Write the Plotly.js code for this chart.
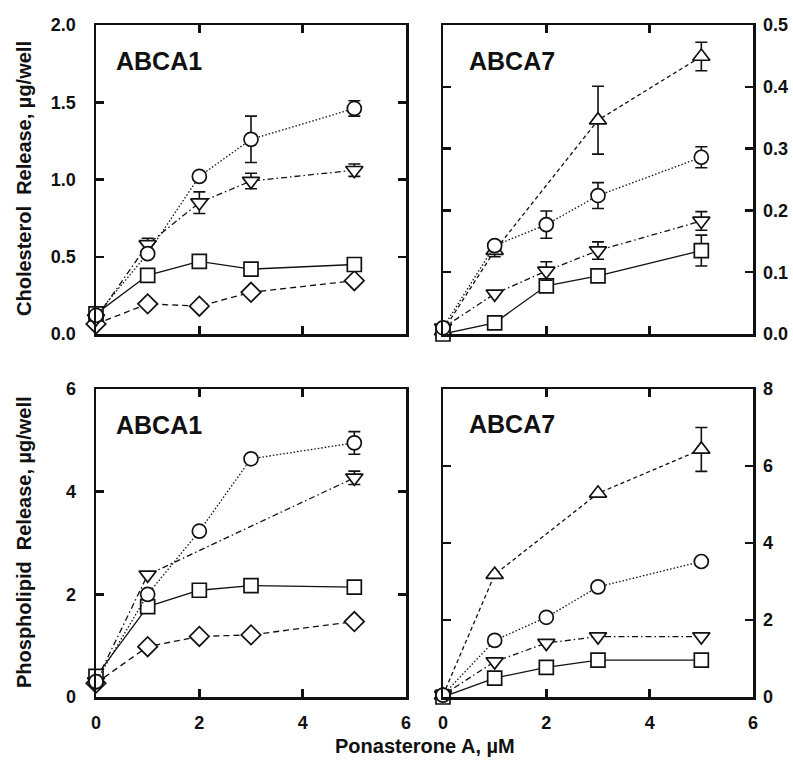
<!DOCTYPE html>
<html>
<head>
<meta charset="utf-8">
<script src="https://cdn.plot.ly/plotly-3.0.1.min.js"></script>
<style>html,body{margin:0;padding:0;background:#fff;}</style>
</head>
<body>
<div id="chart" style="width:793px;height:765px;"></div>
<script>
// Ponasterone A concentrations (µM)
const xAll = [0, 1, 2, 3, 5];
const xTriUp = [0, 1, 3, 5];
const xTriDownPL1 = [0, 1, 5];

// Cholesterol release, ABCA1 (µg/well)
const chol1Circle = [0.12, 0.52, 1.02, 1.26, 1.46];
const chol1CircleErr = [0, 0.02, 0.02, 0.15, 0.05];
const chol1TriDown = [0.10, 0.58, 0.85, 0.99, 1.06];
const chol1TriDownErr = [0, 0.04, 0.07, 0.05, 0.04];
const chol1Square = [0.13, 0.38, 0.47, 0.42, 0.45];
const chol1Diamond = [0.065, 0.195, 0.18, 0.27, 0.345];

// Cholesterol release, ABCA7 (µg/well)
const chol7TriUp = [0.005, 0.135, 0.346, 0.449];
const chol7TriUpErr = [0, 0.01, 0.055, 0.023];
const chol7Circle = [0.01, 0.143, 0.177, 0.224, 0.286];
const chol7CircleErr = [0, 0.005, 0.022, 0.021, 0.017];
const chol7TriDown = [0.01, 0.065, 0.102, 0.135, 0.183];
const chol7TriDownErr = [0, 0, 0.015, 0.014, 0.015];
const chol7Square = [0.0, 0.018, 0.078, 0.094, 0.135];
const chol7SquareErr = [0, 0, 0, 0, 0.025];

// Phospholipid release, ABCA1 (µg/well)
const pl1Circle = [0.30, 2.0, 3.23, 4.64, 4.95];
const pl1CircleErr = [0, 0, 0, 0, 0.22];
const pl1TriDown = [0.30, 2.38, 4.27];
const pl1TriDownErr = [0, 0, 0.13];
const pl1Square = [0.40, 1.76, 2.08, 2.17, 2.14];
const pl1Diamond = [0.27, 0.98, 1.18, 1.21, 1.47];

// Phospholipid release, ABCA7 (µg/well)
const pl7TriUp = [0.05, 3.18, 5.29, 6.43];
const pl7TriUpErr = [0, 0, 0, 0.57];
const pl7Circle = [0.05, 1.47, 2.07, 2.86, 3.52];
const pl7TriDown = [0.05, 0.92, 1.40, 1.57, 1.57];
const pl7Square = [0.0, 0.49, 0.77, 0.96, 0.96];

// Tick labels
const xTickVals = [0, 2, 4, 6];
const xTickText = ['0', '2', '4', '6'];
const cholATickVals = [0, 0.5, 1, 1.5, 2];
const cholATickText = ['0.0', '0.5', '1.0', '1.5', '2.0'];
const chol7TickVals = [0, 0.1, 0.2, 0.3, 0.4, 0.5];
const chol7TickText = ['0.0', '0.1', '0.2', '0.3', '0.4', '0.5'];
const pl1TickVals = [0, 2, 4, 6];
const pl1TickText = ['0', '2', '4', '6'];
const pl7TickVals = [0, 2, 4, 6, 8];
const pl7TickText = ['0', '2', '4', '6', '8'];

const FONT = 'Liberation Sans, Arial, Helvetica, sans-serif';

const styles = {
  circle:   {symbol: 'circle', size: 14, dash: '1.5px,2px'},
  triDown:  {symbol: 'triangle-down', size: 15, dash: '6px,3px,1.5px,3px'},
  triUp:    {symbol: 'triangle-up', size: 15, dash: '4px,3px'},
  square:   {symbol: 'square', size: 14, dash: 'solid'},
  diamond:  {symbol: 'diamond', size: 15, dash: '6px,4px'}
};

function series(x, y, err, kind, xa, ya) {
  const s = styles[kind];
  const t = {
    type: 'scatter', mode: 'lines+markers', x: x, y: y,
    xaxis: xa, yaxis: ya, cliponaxis: false, showlegend: false, hoverinfo: 'skip',
    line: {color: '#111', width: 1.3, dash: s.dash},
    marker: {symbol: s.symbol, size: s.size, color: '#fff',
             line: {color: '#111', width: 1.7}}
  };
  if (err) {
    t.error_y = {type: 'data', array: err, visible: true, color: '#111', thickness: 1.6, width: 6};
  }
  return t;
}

const data = [
  // top-left
  series(xAll, chol1Diamond, null, 'diamond', 'x', 'y'),
  series(xAll, chol1Square, null, 'square', 'x', 'y'),
  series(xAll, chol1TriDown, chol1TriDownErr, 'triDown', 'x', 'y'),
  series(xAll, chol1Circle, chol1CircleErr, 'circle', 'x', 'y'),
  // top-right
  series(xTriUp, chol7TriUp, chol7TriUpErr, 'triUp', 'x2', 'y2'),
  series(xAll, chol7Square, chol7SquareErr, 'square', 'x2', 'y2'),
  series(xAll, chol7TriDown, chol7TriDownErr, 'triDown', 'x2', 'y2'),
  series(xAll, chol7Circle, chol7CircleErr, 'circle', 'x2', 'y2'),
  // bottom-left
  series(xAll, pl1Diamond, null, 'diamond', 'x3', 'y3'),
  series(xTriDownPL1, pl1TriDown, pl1TriDownErr, 'triDown', 'x3', 'y3'),
  series(xAll, pl1Square, null, 'square', 'x3', 'y3'),
  series(xAll, pl1Circle, pl1CircleErr, 'circle', 'x3', 'y3'),
  // bottom-right
  series(xTriUp, pl7TriUp, pl7TriUpErr, 'triUp', 'x4', 'y4'),
  series(xAll, pl7TriDown, null, 'triDown', 'x4', 'y4'),
  series(xAll, pl7Square, null, 'square', 'x4', 'y4'),
  series(xAll, pl7Circle, null, 'circle', 'x4', 'y4')
];

const W = 793, H = 765;
const leftDom = [96 / W, 406 / W];
const rightDom = [443 / W, 753 / W];
const topDom = [1 - 334 / H, 1 - 25 / H];
const botDom = [1 - 697 / H, 1 - 389 / H];

function baseAxis(extra) {
  return Object.assign({
    showline: true, linewidth: 2.5, linecolor: '#111', mirror: 'ticks',
    ticks: 'inside', ticklen: 8, tickwidth: 2.5, tickcolor: '#111',
    showgrid: false, zeroline: false, fixedrange: true,
    tickfont: {family: FONT, size: 18, color: '#111', weight: 'bold'}
  }, extra);
}

const layout = {
  width: W, height: H,
  margin: {l: 0, r: 0, t: 0, b: 0},
  paper_bgcolor: '#fff', plot_bgcolor: '#fff',
  showlegend: false,
  xaxis:  baseAxis({domain: leftDom, anchor: 'y', range: [0, 6], tickvals: xTickVals, showticklabels: false}),
  yaxis:  baseAxis({domain: topDom, anchor: 'x', range: [0, 2], tickvals: cholATickVals, ticktext: cholATickText, ticklabelstandoff: 14}),
  xaxis2: baseAxis({domain: rightDom, anchor: 'y2', range: [0, 6], tickvals: xTickVals, showticklabels: false}),
  yaxis2: baseAxis({domain: topDom, anchor: 'x2', range: [0, 0.5], side: 'right', tickvals: chol7TickVals, ticktext: chol7TickText, ticklabelstandoff: 4}),
  xaxis3: baseAxis({domain: leftDom, anchor: 'y3', range: [0, 6], tickvals: xTickVals, ticktext: xTickText, ticklabelstandoff: 8}),
  yaxis3: baseAxis({domain: botDom, anchor: 'x3', range: [0, 6], tickvals: pl1TickVals, ticktext: pl1TickText, ticklabelstandoff: 14}),
  xaxis4: baseAxis({domain: rightDom, anchor: 'y4', range: [0, 6], tickvals: xTickVals, ticktext: xTickText, ticklabelstandoff: 8}),
  yaxis4: baseAxis({domain: botDom, anchor: 'x4', range: [0, 8], side: 'right', tickvals: pl7TickVals, ticktext: pl7TickText, ticklabelstandoff: 4}),
  annotations: [
    {text: 'ABCA1', xref: 'paper', yref: 'paper', x: 114 / W, y: 1 - 61 / H, xanchor: 'left', yanchor: 'middle', showarrow: false,
     font: {family: FONT, size: 25, color: '#111', weight: 'bold'}},
    {text: 'ABCA7', xref: 'paper', yref: 'paper', x: 467 / W, y: 1 - 61 / H, xanchor: 'left', yanchor: 'middle', showarrow: false,
     font: {family: FONT, size: 25, color: '#111', weight: 'bold'}},
    {text: 'ABCA1', xref: 'paper', yref: 'paper', x: 114 / W, y: 1 - 425 / H, xanchor: 'left', yanchor: 'middle', showarrow: false,
     font: {family: FONT, size: 25, color: '#111', weight: 'bold'}},
    {text: 'ABCA7', xref: 'paper', yref: 'paper', x: 467 / W, y: 1 - 424 / H, xanchor: 'left', yanchor: 'middle', showarrow: false,
     font: {family: FONT, size: 25, color: '#111', weight: 'bold'}},
    {text: 'Cholesterol  Release, µg/well', xref: 'paper', yref: 'paper', x: 24 / W, y: 1 - 179 / H, textangle: -90,
     xanchor: 'center', yanchor: 'middle', showarrow: false,
     font: {family: FONT, size: 20, color: '#111', weight: 'bold'}},
    {text: 'Phospholipid  Release, µg/well', xref: 'paper', yref: 'paper', x: 24 / W, y: 1 - 542 / H, textangle: -90,
     xanchor: 'center', yanchor: 'middle', showarrow: false,
     font: {family: FONT, size: 20, color: '#111', weight: 'bold'}},
    {text: 'Ponasterone A, µM', xref: 'paper', yref: 'paper', x: 425 / W, y: 1 - 746 / H,
     xanchor: 'center', yanchor: 'middle', showarrow: false,
     font: {family: FONT, size: 20, color: '#111', weight: 'bold'}}
  ]
};

Plotly.newPlot('chart', data, layout, {staticPlot: true, displayModeBar: false});
</script>
</body>
</html>
